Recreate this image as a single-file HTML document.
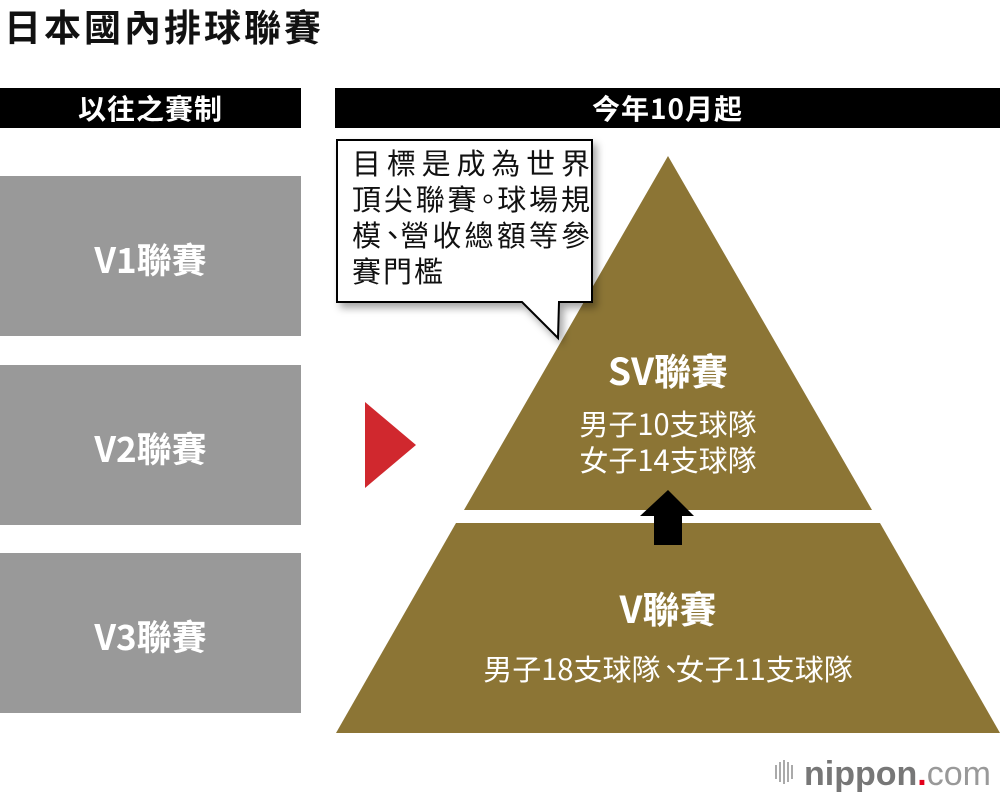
<!DOCTYPE html>
<html><head><meta charset="utf-8"><style>
body{margin:0;width:1000px;height:796px;background:#fff;position:relative;overflow:hidden;font-family:"Noto Sans CJK TC","Liberation Sans",sans-serif}
.a{position:absolute}
.t{font-weight:bold;color:#111}
.hb{background:#000;color:#fff;font-weight:bold;font-size:28px;letter-spacing:1px;text-align:center;line-height:40px;height:40px;top:88px}
.g{background:#999;color:#fff;font-weight:bold;font-size:35px;text-align:center;left:0;width:301px;height:160px;line-height:166px}
.w{color:#fff;text-align:center;width:400px;left:468px}
.j{display:block;text-align:justify;text-align-last:justify;width:238px;height:36px}
</style></head><body>
<div class="a t" style="left:4px;top:0px;font-size:37px;line-height:50px;letter-spacing:3px">日本國內排球聯賽</div>
<div class="a hb" style="left:0;width:301px">以往之賽制</div>
<div class="a hb" style="left:335px;width:665px">今年10月起</div>
<div class="a g" style="top:176px">V1聯賽</div>
<div class="a g" style="top:365px">V2聯賽</div>
<div class="a g" style="top:553px">V3聯賽</div>
<svg class="a" style="left:0;top:0" width="1000" height="796">
<defs><filter id="s" x="-10%" y="-10%" width="130%" height="130%"><feDropShadow dx="4" dy="5" stdDeviation="4" flood-opacity="0.35"/></filter></defs>
<polygon points="365,402 416,445 365,488" fill="#d0282e"/>
<polygon points="668,156 872,510 464,510" fill="#8c7535"/>
<polygon points="456,523 880,523 1000,733 336,733" fill="#8c7535"/>
<polygon points="668,490 694,516 682,516 682,545 654,545 654,516 640,516" fill="#000"/>
<path d="M337,140 H592 V302 H559 L558,338 L522,302 H337 Z" fill="#fff" stroke="#000" stroke-width="2" filter="url(#s)"/>
<g fill="#aaa"><rect x="775" y="765" width="2" height="14"/><rect x="779" y="762" width="2" height="20"/><rect x="783" y="760" width="2" height="24"/><rect x="787" y="762" width="2" height="20"/><rect x="791" y="765" width="2" height="14"/></g>
</svg>
<div class="a" style="left:352px;top:144px;font-size:29px;line-height:36px;color:#111">
<span class="j">目標是成為世界</span><span class="j">頂尖聯賽<span style="margin:0 -8px 0 -6px">。</span>球場規</span><span class="j">模<span style="margin:0 -10px 0 -6px">、</span>營收總額等參</span><span style="display:block;letter-spacing:2px">賽門檻</span></div>
<div class="a w" style="top:344px;font-size:37px;font-weight:bold;line-height:50px">SV聯賽</div>
<div class="a w" style="top:405px;font-size:29px;line-height:36px">男子10支球隊<br>女子14支球隊</div>
<div class="a w" style="top:582px;font-size:37px;font-weight:bold;line-height:50px">V聯賽</div>
<div class="a" style="left:336px;width:664px;text-align:center;top:648px;font-size:29px;line-height:40px;color:#fff">男子18支球隊<span style="margin:0 -10px 0 -4px">、</span>女子11支球隊</div>
<div class="a" style="left:804px;top:752px;font-size:34px;color:#777;font-weight:bold;line-height:44px;font-family:'Liberation Sans',sans-serif">nippon<span style="color:#e3001b">.</span><span style="font-weight:normal;color:#999">com</span></div>
</body></html>
